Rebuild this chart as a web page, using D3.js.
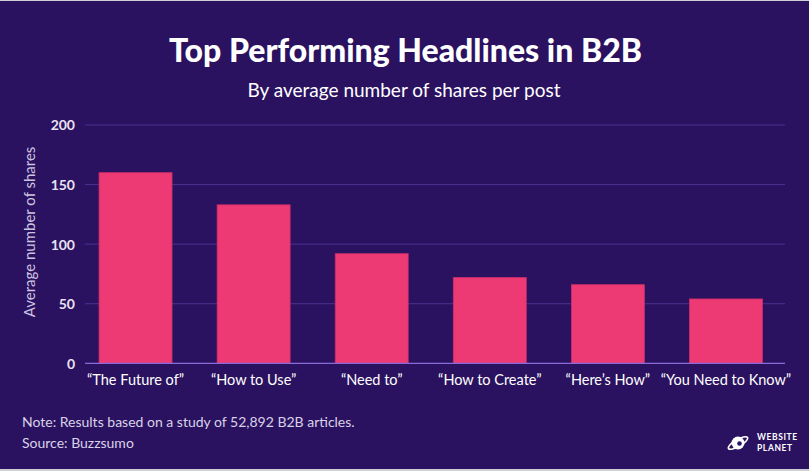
<!DOCTYPE html>
<html><head><meta charset="utf-8">
<script src="https://cdn.jsdelivr.net/npm/d3@7"></script>
<style>html,body{margin:0;padding:0;background:#2b1260;}svg{display:block;}</style>
</head><body>
<svg id="c" width="809" height="471"></svg>
<script>
const categories = ["\u201CThe Future of\u201D","\u201CHow to Use\u201D","\u201CNeed to\u201D","\u201CHow to Create\u201D","\u201CHere\u2019s How\u201D","\u201CYou Need to Know\u201D"];
const shares = [160, 133, 92, 72, 66, 54];
const yTicks = [0, 50, 100, 150, 200];
const title = "Top Performing Headlines in B2B";
const subtitle = "By average number of shares per post";
const yLabel = "Average number of shares";
const notes = ["Note: Results based on a study of 52,892 B2B articles.", "Source: Buzzsumo"];

const W = 809, H = 471;
const svg = d3.select("#c");
const font = "Lato, 'Open Sans', sans-serif";
svg.append("rect").attr("width", W).attr("height", H).attr("fill", "#2b1260");
svg.append("rect").attr("width", W).attr("height", 1).attr("fill", "#cfcfd6");
svg.append("rect").attr("y", H-2).attr("width", W).attr("height", 2).attr("fill", "#cfcfd6");

svg.append("text").attr("x", 405.5).attr("y", 62).attr("text-anchor", "middle")
  .attr("font-family", font).attr("font-weight", 900).attr("font-size", 32).attr("fill", "#fff").text(title);
svg.append("text").attr("x", 404).attr("y", 96.5).attr("text-anchor", "middle")
  .attr("font-family", font).attr("font-size", 19).attr("fill", "#fff").text(subtitle);

const x = d3.scaleBand().domain(categories).range([76.5, 785]).paddingInner(0.382).paddingOuter(0.191);
const y = d3.scaleLinear().domain([0, 200]).range([363.3, 125]);

const g = svg.append("g");
// grid
g.selectAll("line.grid").data(yTicks.filter(d => d > 0)).join("line")
  .attr("x1", 85).attr("x2", 785).attr("y1", d => y(d)).attr("y2", d => y(d))
  .attr("stroke", "#4b3190").attr("stroke-width", 1);

// y axis
const yAxis = d3.axisLeft(y).tickValues(yTicks).tickSize(0).tickPadding(0);
const ya = g.append("g").attr("transform", "translate(75,0)").call(yAxis);
ya.select(".domain").remove();
ya.selectAll("text").attr("font-family", font).attr("font-weight", 700).attr("font-size", 14).attr("fill", "#e8e2f2").attr("dy", "0.35em");

// bars
g.selectAll("rect.bar").data(shares).join("rect")
  .attr("x", (d, i) => x(categories[i])).attr("width", x.bandwidth())
  .attr("y", d => y(d)).attr("height", d => y(0) - y(d))
  .attr("fill", "#ee3a74").attr("stroke", "#c92d6a").attr("stroke-width", 0.8);

// baseline
g.append("line").attr("x1", 85).attr("x2", 785).attr("y1", y(0)).attr("y2", y(0))
  .attr("stroke", "#8a6ad6").attr("stroke-width", 1.2);

// x axis
const xAxis = d3.axisBottom(x).tickSize(0).tickPadding(0);
const xa = g.append("g").attr("transform", `translate(0,${y(0)})`).call(xAxis);
xa.select(".domain").remove();
xa.selectAll("text").attr("font-family", font).attr("font-size", 14.5).attr("fill", "#fff").attr("dy", "1.5em");

// y label
svg.append("text").attr("transform", "translate(35,232) rotate(-90)").attr("text-anchor", "middle")
  .attr("font-family", font).attr("font-size", 15).attr("fill", "#cdc4e0").text(yLabel);

// notes
svg.selectAll("text.note").data(notes).join("text").attr("class", "note")
  .attr("x", 22).attr("y", (d, i) => 427 + i * 21)
  .attr("font-family", font).attr("font-size", 14).attr("fill", "#d9d2e8").text(d => d);

// logo
const lg = svg.append("g").attr("transform", "translate(738,443)");
lg.append("circle").attr("r", 6.5).attr("fill", "#fff");
lg.append("ellipse").attr("rx", 11).attr("ry", 3.5).attr("transform", "rotate(-30)").attr("fill", "none").attr("stroke", "#fff").attr("stroke-width", 1.6);
lg.append("circle").attr("cx", 1.5).attr("cy", 0.5).attr("r", 2.3).attr("fill", "#2b1260");
svg.append("text").attr("x", 757).attr("y", 440).attr("font-family", font).attr("font-weight", 700).attr("font-size", 8.5).attr("letter-spacing", 0.6).attr("fill", "#fff").text("WEBSITE");
svg.append("text").attr("x", 757).attr("y", 450.5).attr("font-family", font).attr("font-weight", 700).attr("font-size", 8.5).attr("letter-spacing", 0.6).attr("fill", "#fff").text("PLANET");
</script>
</body></html>
